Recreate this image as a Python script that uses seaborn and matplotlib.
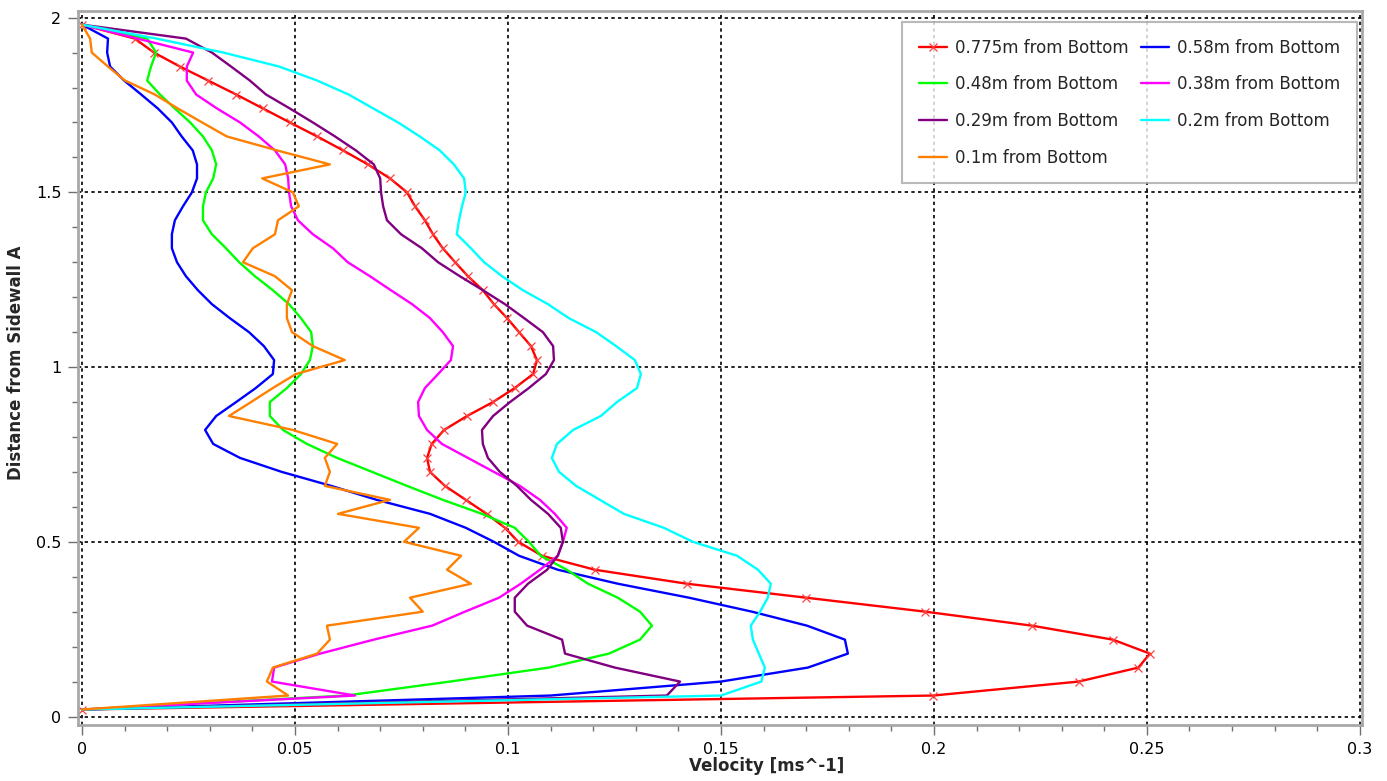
import numpy as np
import pandas as pd
import matplotlib
matplotlib.use("Agg")
import matplotlib.pyplot as plt
import seaborn as sns
from matplotlib.ticker import MultipleLocator, FuncFormatter

# distance from sidewall A (shared sampling positions, top to bottom)
depth = [1.98, 1.94, 1.90, 1.86, 1.82, 1.78, 1.74, 1.70, 1.66, 1.62,
         1.58, 1.54, 1.50, 1.46, 1.42, 1.38, 1.34, 1.30, 1.26, 1.22,
         1.18, 1.14, 1.10, 1.06, 1.02, 0.98, 0.94, 0.90, 0.86, 0.82,
         0.78, 0.74, 0.70, 0.66, 0.62, 0.58, 0.54, 0.50, 0.46, 0.42,
         0.38, 0.34, 0.30, 0.26, 0.22, 0.18, 0.14, 0.10, 0.06, 0.02]

# velocity profiles [m/s] at each height from bottom
v_0775 = [0, 0.0124, 0.0169, 0.0230, 0.0296, 0.0362, 0.0425, 0.0488, 0.0552, 0.0613,
          0.0671, 0.0723, 0.0763, 0.0782, 0.0805, 0.0824, 0.0847, 0.0876, 0.0906, 0.0941,
          0.0967, 0.0998, 0.1026, 0.1054, 0.1068, 0.1059, 0.1016, 0.0965, 0.0904, 0.0850,
          0.0821, 0.0810, 0.0817, 0.0852, 0.0901, 0.0950, 0.0993, 0.1024, 0.108, 0.1204,
          0.142, 0.170, 0.198, 0.223, 0.242, 0.2507, 0.248, 0.234, 0.1998, 0]
v_058 = [0, 0.0061, 0.0059, 0.0066, 0.0099, 0.0139, 0.0178, 0.0211, 0.0234, 0.0260,
         0.0270, 0.0270, 0.0258, 0.0237, 0.0218, 0.0211, 0.0211, 0.0223, 0.0244, 0.0272,
         0.0305, 0.0347, 0.0392, 0.0427, 0.0451, 0.0448, 0.0408, 0.0362, 0.0315, 0.0289,
         0.0308, 0.0371, 0.0469, 0.0585, 0.0692, 0.0817, 0.0901, 0.0967, 0.1026, 0.1117,
         0.1258, 0.1425, 0.1573, 0.1702, 0.1791, 0.1798, 0.1704, 0.150, 0.110, 0]
v_048 = [0, 0.0153, 0.0174, 0.0162, 0.0153, 0.0183, 0.0218, 0.0254, 0.0284, 0.0305,
         0.0315, 0.0308, 0.0291, 0.0284, 0.0284, 0.0305, 0.0338, 0.0369, 0.0406, 0.0448,
         0.0486, 0.0514, 0.0538, 0.0542, 0.0535, 0.0514, 0.0481, 0.0441, 0.0441, 0.0472,
         0.0528, 0.0599, 0.0681, 0.0763, 0.0847, 0.0939, 0.1016, 0.1049, 0.1077, 0.1138,
         0.1188, 0.1258, 0.131, 0.1338, 0.131, 0.1237, 0.1096, 0.0864, 0.062, 0]
v_038 = [0, 0.0131, 0.0261, 0.0246, 0.0246, 0.0268, 0.0317, 0.0371, 0.0415, 0.0453,
         0.0477, 0.0484, 0.0486, 0.0491, 0.0507, 0.0542, 0.0589, 0.0624, 0.0676, 0.0725,
         0.0775, 0.0817, 0.0847, 0.0871, 0.0866, 0.0836, 0.0805, 0.0789, 0.0791, 0.081,
         0.0845, 0.0906, 0.0967, 0.1028, 0.1075, 0.111, 0.1138, 0.1129, 0.1117, 0.1075,
         0.103, 0.0979, 0.0899, 0.0822, 0.0685, 0.0559, 0.0451, 0.0446, 0.0641, 0]
v_029 = [0, 0.0244, 0.0305, 0.035, 0.0394, 0.0432, 0.0488, 0.0542, 0.0594, 0.0643,
         0.0685, 0.07, 0.0702, 0.0707, 0.0716, 0.0749, 0.0798, 0.0836, 0.0887, 0.0941,
         0.0993, 0.1038, 0.1082, 0.1106, 0.1108, 0.1089, 0.1049, 0.1005, 0.0965, 0.0939,
         0.0941, 0.0953, 0.0981, 0.1021, 0.1054, 0.1094, 0.1124, 0.1129, 0.1117, 0.1092,
         0.1047, 0.1016, 0.1016, 0.1045, 0.1127, 0.1134, 0.1251, 0.1404, 0.1373, 0]
v_02 = [0, 0.0175, 0.0332, 0.0463, 0.0552, 0.0626, 0.0684, 0.0742, 0.0793, 0.084,
        0.0873, 0.0897, 0.0901, 0.0892, 0.0885, 0.088, 0.0913, 0.0944, 0.0986, 0.1035,
        0.1094, 0.1143, 0.1207, 0.1254, 0.1298, 0.1312, 0.1303, 0.1256, 0.1218, 0.1153,
        0.1115, 0.1103, 0.112, 0.116, 0.1216, 0.1272, 0.1366, 0.1434, 0.1538, 0.1587,
        0.1617, 0.161, 0.1592, 0.157, 0.1575, 0.1589, 0.1603, 0.1595, 0.15, 0]
v_01 = [0, 0.0019, 0.0023, 0.0061, 0.0101, 0.0171, 0.0225, 0.0282, 0.034, 0.0458,
        0.0582, 0.0423, 0.0495, 0.0509, 0.046, 0.0453, 0.0401, 0.0378, 0.0453, 0.0493,
        0.0481, 0.0481, 0.0493, 0.0542, 0.0617, 0.0502, 0.0448, 0.0397, 0.0345, 0.0495,
        0.0599, 0.057, 0.0582, 0.057, 0.0723, 0.0601, 0.0791, 0.0756, 0.089, 0.0857,
        0.0913, 0.077, 0.08, 0.0575, 0.0582, 0.0552, 0.0448, 0.0434, 0.0484, 0]

labels = ["0.775m from Bottom", "0.58m from Bottom", "0.48m from Bottom",
          "0.38m from Bottom", "0.29m from Bottom", "0.2m from Bottom",
          "0.1m from Bottom"]
series = [v_0775, v_058, v_048, v_038, v_029, v_02, v_01]
colors = ["#ff0000", "#0000ff", "#00ff00", "#ff00ff", "#800080", "#00ffff", "#ff8000"]

sns.set_theme(style="white")
plt.rcParams["font.family"] = ["DejaVu Sans"]

W, H = 1387, 781
fig = plt.figure(figsize=(W / 100, H / 100), dpi=100)
ax = fig.add_axes([78 / W, 1 - 725 / H, (1362 - 78) / W, (725 - 11) / H])

handles = {}
for lab, vals, col in zip(labels, series, colors):
    df = pd.DataFrame({"velocity": vals, "distance": depth})
    kw = {}
    if lab.startswith("0.775"):
        kw = dict(marker="x", markersize=6, markeredgewidth=0.9,
                  markeredgecolor="#ff4040")
    sns.lineplot(data=df, x="velocity", y="distance", sort=False, estimator=None,
                 color=col, linewidth=1.7, ax=ax, label=lab, **kw)
    handles[lab] = ax.get_lines()[-1]

ax.set_xlim(-0.00094, 0.3005)
ax.set_ylim(-0.0243, 2.019)

ax.xaxis.set_major_locator(MultipleLocator(0.05))
ax.xaxis.set_minor_locator(MultipleLocator(0.01))
ax.yaxis.set_major_locator(MultipleLocator(0.5))
ax.yaxis.set_minor_locator(MultipleLocator(0.1))
fmt = FuncFormatter(lambda v, p: "{:g}".format(round(v, 4)))
ax.xaxis.set_major_formatter(fmt)
ax.yaxis.set_major_formatter(fmt)

ax.grid(True, which="major", color="black", linestyle=(0, (2, 2)), linewidth=1.2)
ax.set_axisbelow(True)
for s in ax.spines.values():
    s.set_color("#a8a8a8")
    s.set_linewidth(2)

ax.tick_params(which="major", direction="out", length=7, width=1, color="#707070",
               labelsize=11.5, labelcolor="black", pad=5, bottom=True, left=True)
ax.tick_params(which="minor", direction="out", length=4, width=1, color="#707070",
               bottom=True, left=True)

ax.set_xlabel("Velocity [ms^-1]", fontsize=12, fontweight="bold")
ax.set_ylabel("Distance from Sidewall A", fontsize=12, fontweight="bold")
ax.xaxis.set_label_coords(0.536, -0.045)
ax.yaxis.set_label_coords(-0.041, 0.507)

# legend is filled column-wise, so reorder to read row-wise like the original
order = [0, 2, 4, 6, 1, 3, 5]
leg = ax.legend([handles[labels[i]] for i in order], [labels[i] for i in order],
                ncol=2, loc="upper right", bbox_to_anchor=(0.996, 0.9846),
                borderaxespad=0, fontsize=12, frameon=True, fancybox=False,
                handlelength=1.7, handletextpad=0.45, columnspacing=0.75,
                labelspacing=1.12, borderpad=1.0)
leg.get_frame().set_edgecolor("#a8a8a8")
leg.get_frame().set_linewidth(1.5)

fig.savefig("out.png", dpi=100)
